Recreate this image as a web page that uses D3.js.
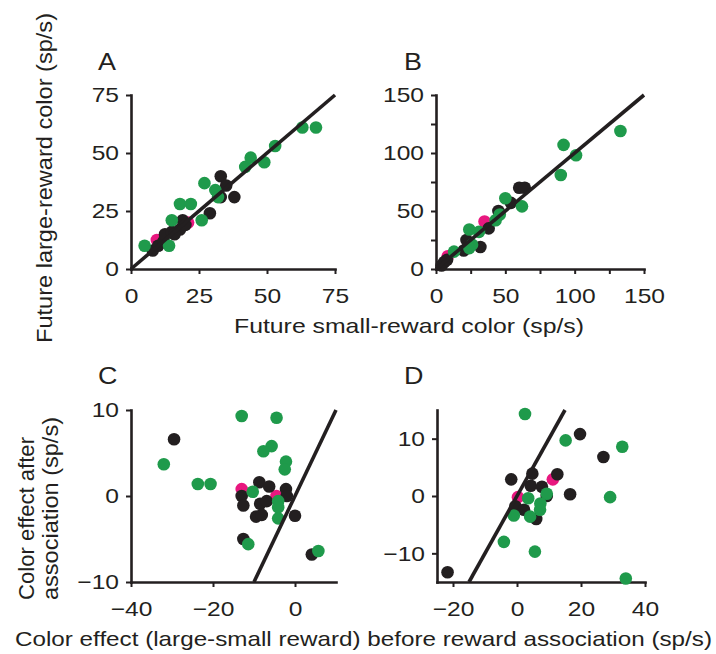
<!DOCTYPE html>
<html><head><meta charset="utf-8">
<script src="https://cdn.jsdelivr.net/npm/d3@7"></script>
<style>
body{margin:0;background:#fff;}
text{font-family:"Liberation Sans",Arial,Helvetica,sans-serif;fill:#231f20;}
</style></head><body>
<svg id="chart" width="716" height="654"></svg>
<script>
// ---- Panel A: future large vs small reward color (sp/s), range 0-75
const aMagenta = [[9.5,12.5],[21,20]];
const aBlack = [[33,40],[35,36],[33,31],[38,31],[29,24],[8,8],[10,10],[12,12],[12.5,15],[15,16],[18,17],[19,21],[20,19],[16,15]];
const aGreen = [[5,10],[14,10],[15,21],[18,28],[22,28],[26,21],[27,37],[31,34],[32,31],[42,44],[44,48],[49,46],[53,53],[63,61],[68,61]];
// ---- Panel B: range 0-150
const bMagenta = [[35,41],[8.5,11]];
const bBlack = [[60,70],[64,70],[54,57],[45,50],[38,35],[32,19],[22,25],[20,16],[6,6],[4,3],[8,8]];
const bGreen = [[133,119],[92,107],[101,98],[90,81],[50,61],[62,54],[46,47],[43,42],[31,32],[24,34],[26,21],[24,18],[13,15]];
// ---- Panel C: color effect before vs after
const cMagenta = [[-13,0.8],[-4.5,0]];
const cBlack = [[-29.5,6.6],[-8.7,1.6],[-6.3,1.1],[-2.2,0.8],[-2,0],[-13,0],[-12.6,-1.1],[-8.5,-0.9],[-6.9,-0.6],[-9.5,-2.4],[-8.1,-2.2],[0,-2.3],[-12.6,-5],[4.1,-6.8]];
const cGreen = [[-13,9.3],[-4.5,9.1],[-5.7,5.8],[-7.7,5.2],[-2.2,4.0],[-2.5,3.1],[-32,3.7],[-23.7,1.4],[-20.6,1.4],[-10.3,0.5],[-4.1,-0.6],[-4.1,-1.3],[-4.1,-2.6],[-11.4,-5.6],[5.7,-6.4]];
// ---- Panel D
const dMagenta = [[11.2,2.9],[0.3,-0.2]];
const dBlack = [[19.7,10.8],[27,6.8],[12.6,3.8],[4.8,3.9],[-1.8,2.9],[4.3,1.8],[7.8,1.6],[16.6,0.3],[9.3,0],[-0.5,-1.8],[2.2,-2.4],[6,-4],[-21.7,-13.3]];
const dGreen = [[2.5,14.3],[15.2,9.7],[32.9,8.6],[29.1,-0.2],[9.3,0.4],[3.5,-0.4],[7.3,-1.3],[7.2,-2.4],[4.1,-3.6],[-1,-3.4],[-4.1,-8],[5.6,-9.7],[34,-14.4]];

// tick values
const aTicks = [0,25,50,75];
const bTicks = [0,25,50,75,100,125,150];
const bLabelled = [0,50,100,150];
const cxTicks = [-40,-20,0];
const cyTicks = [-10,0,10];
const dxTicks = [-20,0,20,40];
const dyTicks = [-10,0,10];

const panelLetters = ["A","B","C","D"];
const titleXTop = "Future small-reward color (sp/s)";
const titleYTop = "Future large-reward color (sp/s)";
const titleYBottom = ["Color effect after","association (sp/s)"];
const titleXBottom = "Color effect (large-small reward) before reward association (sp/s)";

const COLORS = {magenta:"#e8177f", black:"#231f20", green:"#1f9a4b"};
const STRETCH = 1.17;
const svg = d3.select("#chart");

function stretch(sel){
  sel.each(function(){
    const l = this.getComputedTextLength();
    d3.select(this).attr("textLength", l*STRETCH).attr("lengthAdjust","spacingAndGlyphs");
  });
}

function panel(cfg){
  const x = d3.scaleLinear().domain(cfg.xDomain).range(cfg.xRange);
  const y = d3.scaleLinear().domain(cfg.yDomain).range(cfg.yRange);
  const g = svg.append("g");
  const fmtX = cfg.xFmt || (d=>d3.format("")(d));
  const fmtY = cfg.yFmt || (d=>d3.format("")(d));
  const gx = g.append("g").attr("transform",`translate(0,${cfg.yRange[0]})`)
    .call(d3.axisBottom(x).tickValues(cfg.xTicks).tickFormat(fmtX).tickSize(5).tickSizeOuter(0).tickPadding(14));
  const gy = g.append("g").attr("transform",`translate(${cfg.xRange[0]},0)`)
    .call(d3.axisLeft(y).tickValues(cfg.yTicks).tickFormat(fmtY).tickSize(5).tickSizeOuter(0).tickPadding(7));
  [gx,gy].forEach(a=>{
    a.select(".domain").attr("stroke","#231f20").attr("stroke-width",2.6).attr("stroke-linecap","square");
    a.selectAll(".tick line").attr("stroke","#231f20").attr("stroke-width",2);
    a.selectAll(".tick text").attr("font-size",21).attr("font-family","Liberation Sans, Arial, sans-serif").attr("fill","#231f20").call(stretch);
  });
  const groups = [["magenta",cfg.magenta],["black",cfg.black],["green",cfg.green]];
  groups.forEach(([k,arr])=>{
    g.append("g").selectAll("circle").data(arr).join("circle")
      .attr("cx",d=>x(d[0])).attr("cy",d=>y(d[1])).attr("r",6.3).attr("fill",COLORS[k]);
  });
  g.append("path").datum([[cfg.line[0],cfg.line[0]],[cfg.line[1],cfg.line[1]]])
    .attr("d", d3.line().x(d=>x(d[0])).y(d=>y(d[1])))
    .attr("stroke","#231f20").attr("stroke-width",3.6).attr("fill","none");
  g.append("text").attr("x",cfg.label[0]).attr("y",cfg.label[1]).attr("font-size",23).text(cfg.letter).call(stretch);
}

panel({xDomain:[0,75],yDomain:[0,75],xRange:[131,335],yRange:[269,95],xTicks:aTicks,yTicks:aTicks,
  magenta:aMagenta,black:aBlack,green:aGreen,line:[0,75],label:[98,70],letter:panelLetters[0]});
panel({xDomain:[0,150],yDomain:[0,150],xRange:[436,644],yRange:[269,95],xTicks:bTicks,yTicks:bTicks,
  xFmt:d=>bLabelled.includes(d)?d:"", yFmt:d=>bLabelled.includes(d)?d:"",
  magenta:bMagenta,black:bBlack,green:bGreen,line:[0,150],label:[404,70],letter:panelLetters[1]});
panel({xDomain:[-40,10],yDomain:[-10,10],xRange:[131,336],yRange:[582,410],xTicks:cxTicks,yTicks:cyTicks,
  magenta:cMagenta,black:cBlack,green:cGreen,line:[-10,10],label:[98,384],letter:panelLetters[2]});
panel({xDomain:[-25,40],yDomain:[-15,15],xRange:[437,645],yRange:[582,410],xTicks:dxTicks,yTicks:dyTicks,
  magenta:dMagenta,black:dBlack,green:dGreen,line:[-15,15],label:[404,384],letter:panelLetters[3]});

// titles
svg.append("text").attr("transform","translate(52,178) rotate(-90)").attr("text-anchor","middle")
  .attr("font-size",22).attr("textLength",330).attr("lengthAdjust","spacingAndGlyphs").text(titleYTop);
svg.append("text").attr("x",409).attr("y",333).attr("text-anchor","middle")
  .attr("font-size",21).attr("textLength",350).attr("lengthAdjust","spacingAndGlyphs").text(titleXTop);
svg.append("text").attr("transform","translate(34,600) rotate(-90)").attr("text-anchor","start")
  .attr("font-size",22).attr("textLength",163).attr("lengthAdjust","spacingAndGlyphs").text(titleYBottom[0]);
svg.append("text").attr("transform","translate(58,600) rotate(-90)").attr("text-anchor","start")
  .attr("font-size",22).attr("textLength",183).attr("lengthAdjust","spacingAndGlyphs").text(titleYBottom[1]);
svg.append("text").attr("x",15).attr("y",646).attr("text-anchor","start")
  .attr("font-size",21).attr("textLength",697).attr("lengthAdjust","spacingAndGlyphs").text(titleXBottom);
</script>
</body></html>
